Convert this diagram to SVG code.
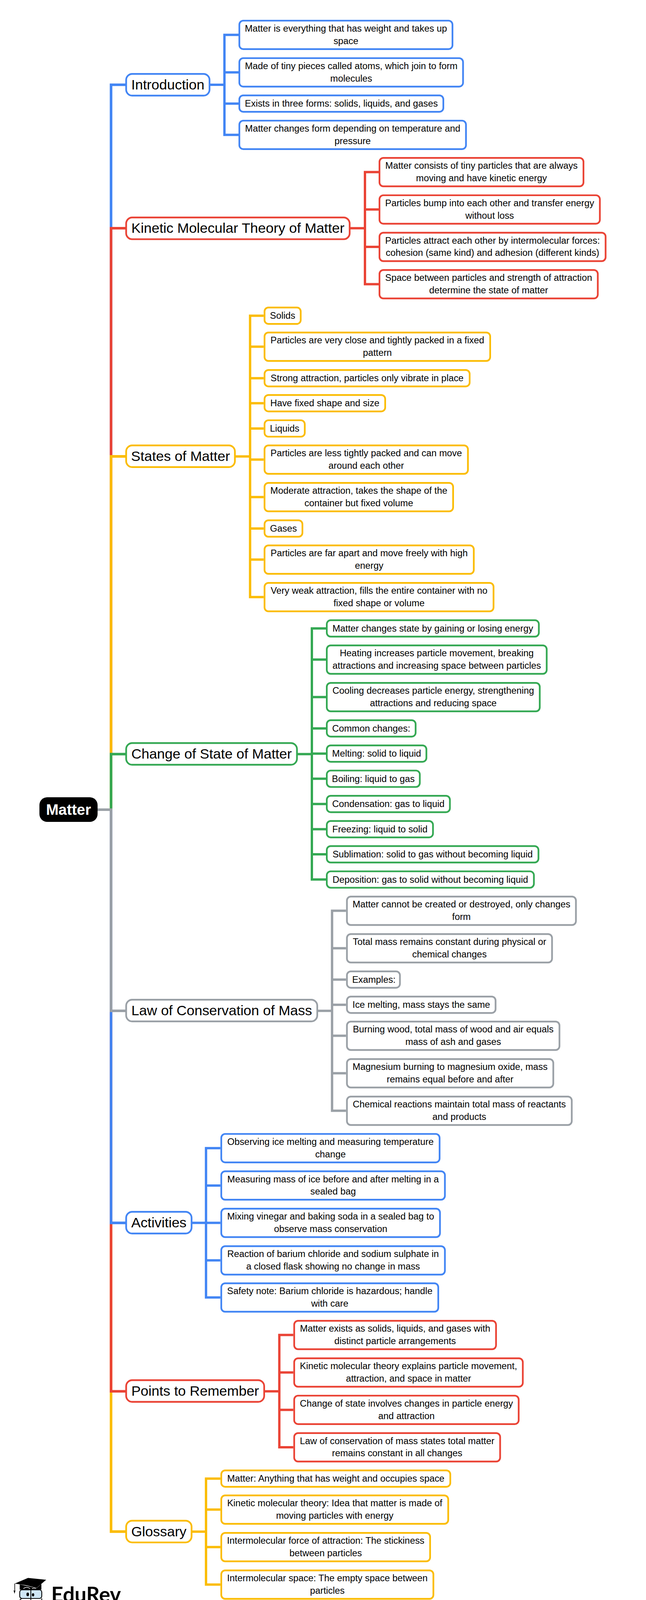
<svg xmlns="http://www.w3.org/2000/svg" width="1655" height="4146" viewBox="0 0 1655 4146">
<style>
text{font-family:"Liberation Sans",Arial,sans-serif;fill:#000;text-anchor:middle;font-size:23.85px}
.m{font-size:35.9px}
.root{font-size:38.4px;font-weight:bold;fill:#fff}
rect{fill:#fff;stroke-width:4.4}
.top{rx:15.5px;ry:15.5px}
.leaf{rx:10px;ry:10px}
.blue{stroke:#4285f4}.red{stroke:#ea4335}.yellow{stroke:#fbbc04}.green{stroke:#34a853}.gray{stroke:#9aa0a6}
#connectors path{fill:none;stroke-width:6}
#connectors .trunk{stroke-width:6.6}
</style>
<rect width="1655" height="4146" style="fill:#fff;stroke:none"/>
<g id="connectors">
<path class="trunk blue" d="M284.5 2072.7V217H321"/>
<path class="trunk red" d="M284.5 2072.7V584.3H321"/>
<path class="trunk yellow" d="M284.5 2072.7V1168.4H321"/>
<path class="trunk green" d="M284.5 2072.7V1930.5H321"/>
<path class="trunk yellow" d="M284.5 2072.7V3920.9H321"/>
<path class="trunk red" d="M284.5 2072.7V3561.7H321"/>
<path class="trunk blue" d="M284.5 2072.7V3130.6H321"/>
<path class="trunk gray" d="M250 2072.7H284.5V2587.7H321"/>
<path class="blue" d="M537 217H575M611 89.3H575V345.3H611M575 185.3H611M575 265.2H611"/>
<path class="red" d="M896 584.3H935M970 440.6H935V727.6H970M935 536.3H970M935 632.1H970"/>
<path class="yellow" d="M602 1168.4H640.7M675.5 808.2H640.7V1528.6H675.5M640.7 887.6H675.5M640.7 968.2H675.5M640.7 1032.2H675.5M640.7 1096.9H675.5M640.7 1176.6H675.5M640.7 1272.6H675.5M640.7 1353H675.5M640.7 1432.6H675.5"/>
<path class="green" d="M761 1930.5H799M835 1608.8H799V2251.6H835M799 1688.6H835M799 1784.6H835M799 1864.7H835M799 1929.2H835M799 1993.6H835M799 2058.2H835M799 2122.7H835M799 2187H835"/>
<path class="gray" d="M813 2587.7H850.7M886.6 2331.6H850.7V2843.6H886.6M850.7 2427.6H886.6M850.7 2507.7H886.6M850.7 2572.2H886.6M850.7 2651.6H886.6M850.7 2747.6H886.6"/>
<path class="blue" d="M491 3130.6H527.8M564.7 2939.3H527.8V3321.6H564.7M527.8 3034.9H564.7M527.8 3130.6H564.7M527.8 3226.6H564.7"/>
<path class="red" d="M677 3561.7H715.6M751.5 3417.6H715.6V3705.1H751.5M715.6 3513.6H751.5M715.6 3609.3H751.5"/>
<path class="yellow" d="M491 3920.9H527.8M564.7 3785.2H527.8V4056.6H564.7M527.8 3864.6H564.7M527.8 3960.6H564.7"/>
</g>
<g id="matter"><rect x="101" y="2041" width="149" height="63" rx="20" ry="20" style="fill:#000;stroke:none"/><text class="root" x="175.5" y="2086">Matter</text></g>

<g id="introduction"><rect class="top blue" x="323.2" y="189.2" width="213.6" height="55.6"/><text class="m" x="430" y="228.7">Introduction</text></g>
<g id="intro-1"><rect class="leaf blue" x="613.2" y="52.9" width="546" height="72.8"/><text x="886.25" y="81.1">Matter is everything that has weight and takes up</text><text x="886.25" y="112.5">space</text></g>
<g id="intro-2"><rect class="leaf blue" x="613.2" y="148.9" width="573.1" height="72.8"/><text x="899.75" y="177.1">Made of tiny pieces called atoms, which join to form</text><text x="899.75" y="208.5">molecules</text></g>
<g id="intro-3"><rect class="leaf blue" x="613.2" y="244.2" width="522.6" height="42"/><text x="874.5" y="273.4">Exists in three forms: solids, liquids, and gases</text></g>
<g id="intro-4"><rect class="leaf blue" x="613.2" y="308.9" width="580.6" height="72.8"/><text x="903.5" y="337.1">Matter changes form depending on temperature and</text><text x="903.5" y="368.5">pressure</text></g>

<g id="kmt"><rect class="top red" x="323.2" y="556.8" width="572.6" height="55.6"/><text class="m" x="609.5" y="596">Kinetic Molecular Theory of Matter</text></g>
<g id="kmt-1"><rect class="leaf red" x="972.2" y="404.2" width="522.6" height="72.8"/><text x="1233.5" y="432.4">Matter consists of tiny particles that are always</text><text x="1233.5" y="463.8">moving and have kinetic energy</text></g>
<g id="kmt-2"><rect class="leaf red" x="972.2" y="499.9" width="564.6" height="72.8"/><text x="1254.5" y="528.1">Particles bump into each other and transfer energy</text><text x="1254.5" y="559.5">without loss</text></g>
<g id="kmt-3"><rect class="leaf red" x="972.2" y="595.7" width="579.3" height="72.8"/><text x="1261.85" y="623.9">Particles attract each other by intermolecular forces:</text><text x="1261.85" y="655.3">cohesion (same kind) and adhesion (different kinds)</text></g>
<g id="kmt-4"><rect class="leaf red" x="972.2" y="691.2" width="559.3" height="72.8"/><text x="1251.85" y="719.4">Space between particles and strength of attraction</text><text x="1251.85" y="750.8">determine the state of matter</text></g>

<g id="states"><rect class="top yellow" x="323.2" y="1140.2" width="278.6" height="55.6"/><text class="m" x="462.5" y="1180.1">States of Matter</text></g>
<g id="states-1"><rect class="leaf yellow" x="677.7" y="787.2" width="92.7" height="42"/><text x="724" y="816.4">Solids</text></g>
<g id="states-2"><rect class="leaf yellow" x="677.7" y="851.2" width="578.1" height="72.8"/><text x="966.75" y="879.4">Particles are very close and tightly packed in a fixed</text><text x="966.75" y="910.8">pattern</text></g>
<g id="states-3"><rect class="leaf yellow" x="677.7" y="947.2" width="525.5" height="42"/><text x="940.45" y="976.4">Strong attraction, particles only vibrate in place</text></g>
<g id="states-4"><rect class="leaf yellow" x="677.7" y="1011.2" width="309.1" height="42"/><text x="832.25" y="1040.4">Have fixed shape and size</text></g>
<g id="states-5"><rect class="leaf yellow" x="677.7" y="1075.9" width="103.1" height="42"/><text x="729.25" y="1105.1">Liquids</text></g>
<g id="states-6"><rect class="leaf yellow" x="677.7" y="1140.2" width="521.1" height="72.8"/><text x="938.25" y="1168.4">Particles are less tightly packed and can move</text><text x="938.25" y="1199.8">around each other</text></g>
<g id="states-7"><rect class="leaf yellow" x="677.7" y="1236.2" width="483.1" height="72.8"/><text x="919.25" y="1264.4">Moderate attraction, takes the shape of the</text><text x="919.25" y="1295.8">container but fixed volume</text></g>
<g id="states-8"><rect class="leaf yellow" x="677.7" y="1332" width="97.1" height="42"/><text x="726.25" y="1361.2">Gases</text></g>
<g id="states-9"><rect class="leaf yellow" x="677.7" y="1396.2" width="536.1" height="72.8"/><text x="945.75" y="1424.4">Particles are far apart and move freely with high</text><text x="945.75" y="1455.8">energy</text></g>
<g id="states-10"><rect class="leaf yellow" x="677.7" y="1492.2" width="586.7" height="72.8"/><text x="971.05" y="1520.4">Very weak attraction, fills the entire container with no</text><text x="971.05" y="1551.8">fixed shape or volume</text></g>

<g id="change"><rect class="top green" x="323.2" y="1902.2" width="437.6" height="55.6"/><text class="m" x="542" y="1942.2">Change of State of Matter</text></g>
<g id="change-1"><rect class="leaf green" x="837.2" y="1587.8" width="543.3" height="42"/><text x="1108.85" y="1617">Matter changes state by gaining or losing energy</text></g>
<g id="change-2"><rect class="leaf green" x="837.2" y="1652.2" width="563.4" height="72.8"/><text x="1118.9" y="1680.4">Heating increases particle movement, breaking</text><text x="1118.9" y="1711.8">attractions and increasing space between particles</text></g>
<g id="change-3"><rect class="leaf green" x="837.2" y="1748.2" width="545.6" height="72.8"/><text x="1110" y="1776.4">Cooling decreases particle energy, strengthening</text><text x="1110" y="1807.8">attractions and reducing space</text></g>
<g id="change-4"><rect class="leaf green" x="837.2" y="1843.7" width="227.6" height="42"/><text x="951" y="1872.9">Common changes:</text></g>
<g id="change-5"><rect class="leaf green" x="837.2" y="1908.2" width="255.2" height="42"/><text x="964.8" y="1937.4">Melting: solid to liquid</text></g>
<g id="change-6"><rect class="leaf green" x="837.2" y="1972.6" width="238.3" height="42"/><text x="956.35" y="2001.8">Boiling: liquid to gas</text></g>
<g id="change-7"><rect class="leaf green" x="837.2" y="2037.2" width="315.4" height="42"/><text x="994.9" y="2066.4">Condensation: gas to liquid</text></g>
<g id="change-8"><rect class="leaf green" x="837.2" y="2101.7" width="272.1" height="42"/><text x="973.25" y="2130.9">Freezing: liquid to solid</text></g>
<g id="change-9"><rect class="leaf green" x="837.2" y="2166" width="542.3" height="42"/><text x="1108.35" y="2195.2">Sublimation: solid to gas without becoming liquid</text></g>
<g id="change-10"><rect class="leaf green" x="837.2" y="2230.6" width="530.6" height="42"/><text x="1102.5" y="2259.8">Deposition: gas to solid without becoming liquid</text></g>

<g id="law"><rect class="top gray" x="323.2" y="2559.2" width="489.6" height="55.6"/><text class="m" x="568" y="2599.4">Law of Conservation of Mass</text></g>
<g id="law-1"><rect class="leaf gray" x="888.8" y="2295.2" width="586.7" height="72.8"/><text x="1182.15" y="2323.4">Matter cannot be created or destroyed, only changes</text><text x="1182.15" y="2354.8">form</text></g>
<g id="law-2"><rect class="leaf gray" x="888.8" y="2391.2" width="525.5" height="72.8"/><text x="1151.55" y="2419.4">Total mass remains constant during physical or</text><text x="1151.55" y="2450.8">chemical changes</text></g>
<g id="law-3"><rect class="leaf gray" x="888.8" y="2486.7" width="135.8" height="42"/><text x="957.8" y="2515.9">Examples:</text></g>
<g id="law-4"><rect class="leaf gray" x="888.8" y="2551.2" width="380.8" height="42"/><text x="1079.3" y="2580.4">Ice melting, mass stays the same</text></g>
<g id="law-5"><rect class="leaf gray" x="888.8" y="2615.2" width="544.5" height="72.8"/><text x="1161.05" y="2643.4">Burning wood, total mass of wood and air equals</text><text x="1161.05" y="2674.8">mass of ash and gases</text></g>
<g id="law-6"><rect class="leaf gray" x="888.8" y="2711.2" width="528.7" height="72.8"/><text x="1153.15" y="2739.4">Magnesium burning to magnesium oxide, mass</text><text x="1153.15" y="2770.8">remains equal before and after</text></g>
<g id="law-7"><rect class="leaf gray" x="888.8" y="2807.2" width="576" height="72.8"/><text x="1176.8" y="2835.4">Chemical reactions maintain total mass of reactants</text><text x="1176.8" y="2866.8">and products</text></g>

<g id="activities"><rect class="top blue" x="323.2" y="3102.2" width="167.6" height="55.6"/><text class="m" x="407" y="3142.3">Activities</text></g>
<g id="act-1"><rect class="leaf blue" x="566.9" y="2902.9" width="559.3" height="72.8"/><text x="846.55" y="2931.1">Observing ice melting and measuring temperature</text><text x="846.55" y="2962.5">change</text></g>
<g id="act-2"><rect class="leaf blue" x="566.9" y="2998.5" width="572.9" height="72.8"/><text x="853.35" y="3026.7">Measuring mass of ice before and after melting in a</text><text x="853.35" y="3058.1">sealed bag</text></g>
<g id="act-3"><rect class="leaf blue" x="566.9" y="3094.2" width="560.3" height="72.8"/><text x="847.05" y="3122.4">Mixing vinegar and baking soda in a sealed bag to</text><text x="847.05" y="3153.8">observe mass conservation</text></g>
<g id="act-4"><rect class="leaf blue" x="566.9" y="3190.2" width="572.9" height="72.8"/><text x="853.35" y="3218.4">Reaction of barium chloride and sodium sulphate in</text><text x="853.35" y="3249.8">a closed flask showing no change in mass</text></g>
<g id="act-5"><rect class="leaf blue" x="566.9" y="3285.2" width="555.9" height="72.8"/><text x="844.85" y="3313.4">Safety note: Barium chloride is hazardous; handle</text><text x="844.85" y="3344.8">with care</text></g>

<g id="points"><rect class="top red" x="323.2" y="3533.2" width="353.6" height="55.6"/><text class="m" x="500" y="3573.4">Points to Remember</text></g>
<g id="pts-1"><rect class="leaf red" x="753.7" y="3381.2" width="517.1" height="72.8"/><text x="1012.25" y="3409.4">Matter exists as solids, liquids, and gases with</text><text x="1012.25" y="3440.8">distinct particle arrangements</text></g>
<g id="pts-2"><rect class="leaf red" x="753.7" y="3477.2" width="585.7" height="72.8"/><text x="1046.55" y="3505.4">Kinetic molecular theory explains particle movement,</text><text x="1046.55" y="3536.8">attraction, and space in matter</text></g>
<g id="pts-3"><rect class="leaf red" x="753.7" y="3572.9" width="575.1" height="72.8"/><text x="1041.25" y="3601.1">Change of state involves changes in particle energy</text><text x="1041.25" y="3632.5">and attraction</text></g>
<g id="pts-4"><rect class="leaf red" x="753.7" y="3668.7" width="527.6" height="72.8"/><text x="1017.5" y="3696.9">Law of conservation of mass states total matter</text><text x="1017.5" y="3728.3">remains constant in all changes</text></g>

<g id="glossary"><rect class="top yellow" x="323.2" y="3893" width="167.6" height="55.6"/><text class="m" x="407" y="3932.6">Glossary</text></g>
<g id="glo-1"><rect class="leaf yellow" x="566.9" y="3764.2" width="586.7" height="42"/><text x="860.25" y="3793.4">Matter: Anything that has weight and occupies space</text></g>
<g id="glo-2"><rect class="leaf yellow" x="566.9" y="3828.2" width="581.4" height="72.8"/><text x="857.6" y="3856.4">Kinetic molecular theory: Idea that matter is made of</text><text x="857.6" y="3887.8">moving particles with energy</text></g>
<g id="glo-3"><rect class="leaf yellow" x="566.9" y="3924.2" width="535" height="72.8"/><text x="834.35" y="3952.4">Intermolecular force of attraction: The stickiness</text><text x="834.35" y="3983.8">between particles</text></g>
<g id="glo-4"><rect class="leaf yellow" x="566.9" y="4020.2" width="543.4" height="72.8"/><text x="838.6" y="4048.4">Intermolecular space: The empty space between</text><text x="838.6" y="4079.8">particles</text></g>

<g id="logo">
<path d="M50.5 4056V4069.5H106V4055L94 4065.5Z" fill="#000"/>
<path d="M37.7 4054L71.7 4039.5L118.3 4044.3L94 4065L66 4058Z" fill="#000"/>
<path d="M37.7 4054V4071" fill="none" stroke="#000" stroke-width="1.6"/>
<path d="M34.8 4071.5H39.6L37.2 4080Z" fill="#000"/>
<path d="M60 4067Q68 4060 77 4067M82 4067Q88 4064 92 4067" fill="none" stroke="#fff" stroke-width="1.4"/>
<rect x="50.5" y="4070" width="56.5" height="22" rx="6" ry="6" style="fill:#cfe6f5;stroke:#000;stroke-width:2.2"/>
<path d="M57 4092Q50 4093 50.5 4101V4109Q50.5 4111 54 4111L76 4111.5M79 4070V4112M107 4092V4111" fill="none" stroke="#000" stroke-width="2"/>
<ellipse cx="71" cy="4081.7" rx="3.3" ry="4.6" fill="#000"/>
<ellipse cx="84.7" cy="4082.7" rx="3" ry="4" fill="#000"/>
<path d="M69 4099Q78 4105 88 4097" fill="none" stroke="#000" stroke-width="1.6"/>
<text x="220.5" y="4101" style="font-family:Lato,'Liberation Sans',sans-serif;font-weight:700;font-size:53.5px">EduRev</text>
</g>
</svg>
